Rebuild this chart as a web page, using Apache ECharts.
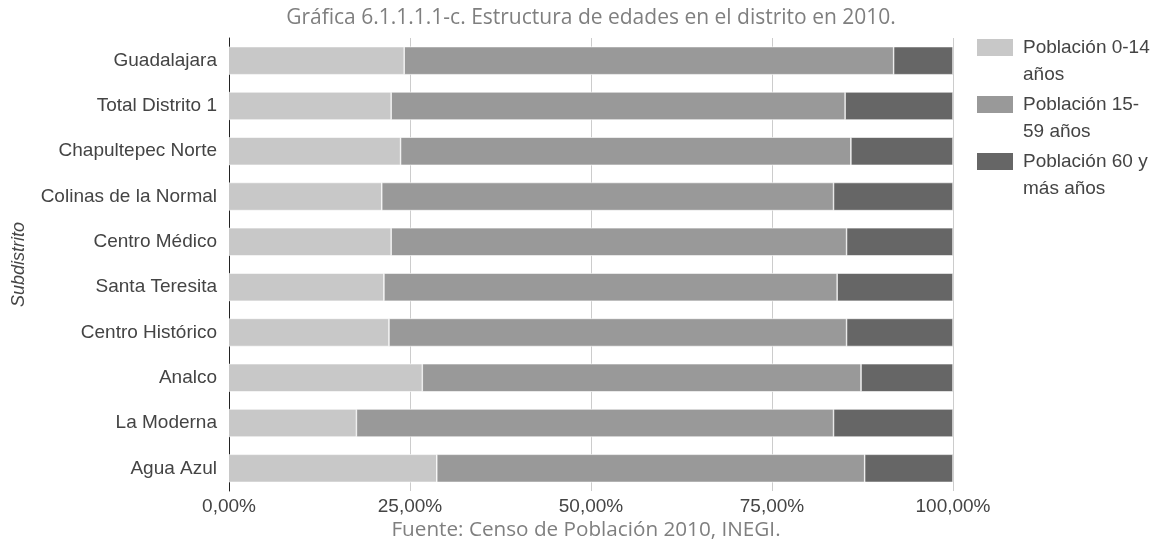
<!DOCTYPE html>
<html>
<head>
<meta charset="utf-8">
<script src="https://cdn.jsdelivr.net/npm/echarts@6/dist/echarts.min.js"></script>
<style>
  html, body { margin: 0; padding: 0; background: #fff; }
  #chart { width: 1159px; height: 543px; }
</style>
</head>
<body>
<div id="chart"></div>
<script>
// subdistritos, de arriba hacia abajo
var categories = ['Guadalajara', 'Total Distrito 1', 'Chapultepec Norte', 'Colinas de la Normal',
  'Centro Médico', 'Santa Teresita', 'Centro Histórico', 'Analco', 'La Moderna', 'Agua Azul'];
var seriesNames = ['Población 0-14 años', 'Población 15-59 años', 'Población 60 y más años'];
var pob0a14 = [24.2, 22.4, 23.7, 21.1, 22.4, 21.4, 22.1, 26.7, 17.6, 28.7];
var pob15a59 = [67.6, 62.7, 62.2, 62.4, 62.9, 62.6, 63.2, 60.6, 65.9, 59.1];
var pob60mas = [8.2, 14.9, 14.1, 16.5, 14.7, 16.0, 14.7, 12.7, 16.5, 12.2];
var xTicks = [0, 25, 50, 75, 100];

var colors = ['#c8c8c8', '#999999', '#666666'];
// blank first line so the first text line sits level with the swatch
var legendLines = {
  'Población 0-14 años': ' \nPoblación 0-14\naños',
  'Población 15-59 años': ' \nPoblación 15-\n59 años',
  'Población 60 y más años': ' \nPoblación 60 y\nmás años'
};

function pct(v) {
  return v.toFixed(2).replace('.', ',') + '%';
}

var chart = echarts.init(document.getElementById('chart'));

var option = {
  animation: false,
  color: colors,
  title: [
    {
      text: 'Gráfica 6.1.1.1.1-c. Estructura de edades en el distrito en 2010.',
      left: 586, top: 3, textAlign: 'center',
      textStyle: { fontFamily: 'Open Sans', fontSize: 21, fontWeight: 'normal', color: '#7f7f7f' }
    },
    {
      text: 'Fuente: Censo de Población 2010, INEGI.',
      left: 581, top: 515, textAlign: 'center',
      textStyle: { fontFamily: 'Open Sans', fontSize: 20.7, fontWeight: 'normal', color: '#7f7f7f' }
    }
  ],
  legend: {
    orient: 'vertical',
    left: 975, top: 7,
    padding: 0,
    itemWidth: 38, itemHeight: 19,
    itemGap: -24,
    icon: 'rect',
    data: seriesNames,
    formatter: function (name) { return legendLines[name]; },
    textStyle: {
      fontFamily: 'Liberation Sans', fontSize: 19, color: '#444',
      lineHeight: 27, padding: [0, 0, 0, 4]
    }
  },
  grid: { left: 229, right: 206, top: 38, bottom: 52, containLabel: false },
  xAxis: {
    type: 'value',
    min: xTicks[0], max: xTicks[xTicks.length - 1], interval: 25,
    axisLine: { show: false },
    axisTick: { show: false },
    axisLabel: {
      formatter: pct, margin: 6,
      fontFamily: 'Liberation Sans', fontSize: 19, color: '#444'
    },
    splitLine: { show: true, lineStyle: { color: '#cccccc', width: 1 } }
  },
  yAxis: {
    type: 'category',
    data: categories,
    inverse: true,
    name: 'Subdistrito',
    nameLocation: 'middle',
    nameRotate: 90,
    nameGap: 201,
    nameTextStyle: { fontFamily: 'Liberation Sans', fontSize: 18, fontStyle: 'italic', color: '#444' },
    axisLine: { show: true, lineStyle: { color: '#222', width: 1 } },
    axisTick: { show: false },
    axisLabel: { margin: 12, fontFamily: 'Liberation Sans', fontSize: 19, color: '#444' }
  },
  series: [pob0a14, pob15a59, pob60mas].map(function (d, i) {
    return {
      name: seriesNames[i],
      type: 'bar',
      stack: 'total',
      data: d,
      barWidth: '62%',
      itemStyle: { color: colors[i], borderColor: '#fff', borderWidth: 0.6 }
    };
  })
};

chart.setOption(option);
</script>
</body>
</html>
